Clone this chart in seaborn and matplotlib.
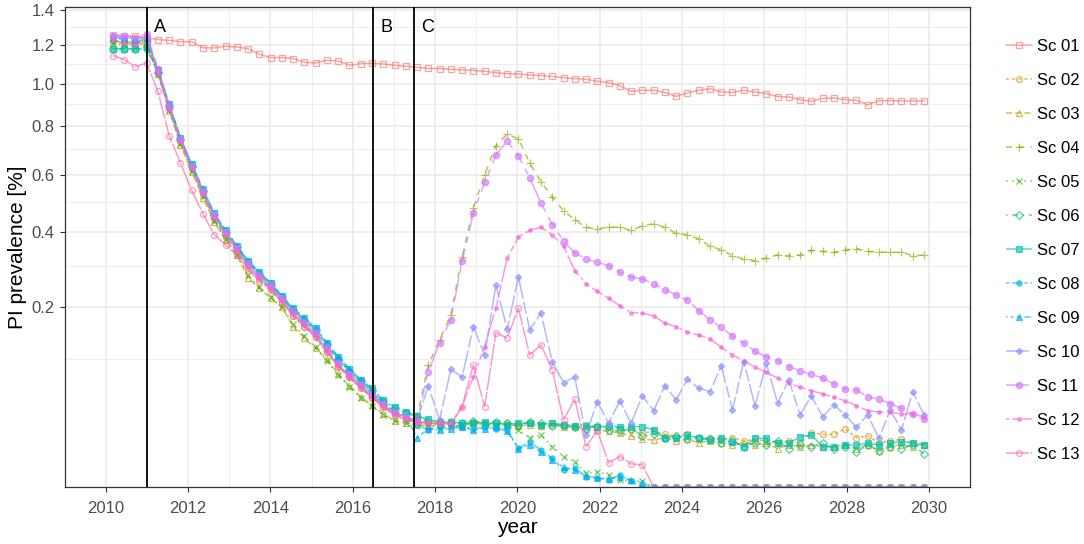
import numpy as np
import pandas as pd
import seaborn as sns
import matplotlib.pyplot as plt
import matplotlib.colors as mcolors

# time points (every 100 days)
year = [2010.170, 2010.444, 2010.718, 2010.991, 2011.265, 2011.539, 2011.813, 2012.087,
        2012.360, 2012.634, 2012.908, 2013.182, 2013.455, 2013.729, 2014.003, 2014.277,
        2014.551, 2014.824, 2015.098, 2015.372, 2015.646, 2015.920, 2016.193, 2016.467,
        2016.741, 2017.015, 2017.289, 2017.562, 2017.836, 2018.110, 2018.384, 2018.657,
        2018.931, 2019.205, 2019.479, 2019.753, 2020.026, 2020.300, 2020.574, 2020.848,
        2021.122, 2021.395, 2021.669, 2021.943, 2022.217, 2022.491, 2022.764, 2023.038,
        2023.312, 2023.586, 2023.860, 2024.133, 2024.407, 2024.681, 2024.955, 2025.228,
        2025.502, 2025.776, 2026.050, 2026.324, 2026.597, 2026.871, 2027.145, 2027.419,
        2027.693, 2027.966, 2028.240, 2028.514, 2028.788, 2029.062, 2029.335, 2029.609,
        2029.883]

sc01 = [1.258, 1.252, 1.249, 1.240, 1.230, 1.226, 1.218, 1.218, 1.185, 1.185, 1.194, 1.190,
        1.180, 1.151, 1.133, 1.133, 1.128, 1.109, 1.105, 1.119, 1.116, 1.093, 1.102, 1.103,
        1.100, 1.093, 1.088, 1.082, 1.077, 1.076,
        1.072, 1.070, 1.066, 1.062, 1.055, 1.050, 1.048, 1.043, 1.040, 1.036, 1.030, 1.025,
        1.022, 1.012, 1.005,
        0.990, 0.962, 0.967, 0.967, 0.957, 0.938, 0.954, 0.967, 0.975, 0.959, 0.957, 0.967,
        0.959, 0.951, 0.937, 0.935, 0.922, 0.914, 0.928, 0.930, 0.922, 0.919, 0.897, 0.917,
        0.917, 0.916, 0.916, 0.916]

sc02 = [1.22, 1.21, 1.22, 1.21,
        1.06, 0.88, 0.73, 0.62, 0.525, 0.44, 0.385, 0.34, 0.295, 0.265, 0.24, 0.21, 0.18,
        0.158, 0.138, 0.112, 0.089, 0.074, 0.060, 0.049, 0.039, 0.032, 0.028, 0.026, 0.025,
        0.024,
        0.025, 0.024, 0.026, 0.025, 0.024, 0.025, 0.024, 0.025, 0.024, 0.025, 0.023, 0.023,
        0.024, 0.022, 0.022, 0.021, 0.020, 0.018, 0.019, 0.017, 0.016, 0.017, 0.015, 0.015,
        0.014, 0.015, 0.013, 0.014, 0.013, 0.012, 0.013, 0.012, 0.018, 0.017, 0.017, 0.021,
        0.015, 0.016, 0.012, 0.013, 0.014, 0.012, 0.011]

sc03 = [1.23, 1.21, 1.21, 1.20,
        1.05, 0.87, 0.72, 0.61, 0.515, 0.43, 0.375, 0.33, 0.268, 0.243, 0.219, 0.199, 0.158,
        0.136, 0.118, 0.100, 0.078, 0.063, 0.050, 0.041, 0.033, 0.027, 0.025, 0.024, 0.023,
        0.024,
        0.024, 0.023, 0.025, 0.024, 0.023, 0.024, 0.023, 0.024, 0.023, 0.024, 0.022, 0.022,
        0.021, 0.020, 0.019, 0.018, 0.016, 0.014, 0.0136, 0.015, 0.013, 0.014, 0.012, 0.013,
        0.012, 0.011, 0.012, 0.011, 0.012, 0.009, 0.011, 0.010, 0.011, 0.010, 0.010, 0.011,
        0.009, 0.011, 0.008, 0.010, 0.011, 0.010, 0.011]

sc04 = [1.22, 1.22, 1.21, 1.22,
        1.06, 0.88, 0.74, 0.63, 0.53, 0.445, 0.39, 0.345, 0.30, 0.27, 0.243, 0.213, 0.183,
        0.161, 0.14, 0.113, 0.09, 0.075, 0.061, 0.05, 0.04, 0.033, 0.029,
        0.030, 0.0916, 0.133, 0.182, 0.325, 0.478, 0.599, 0.716, 0.765, 0.745, 0.645, 0.572,
        0.517, 0.469, 0.439, 0.414, 0.409, 0.415,
        0.415, 0.4045, 0.419, 0.426, 0.414, 0.396, 0.391, 0.379, 0.356, 0.346, 0.329, 0.320,
        0.315, 0.322, 0.331, 0.329, 0.331, 0.344, 0.341, 0.338, 0.346, 0.349, 0.341, 0.339,
        0.339, 0.338, 0.329, 0.330]

sc05 = [1.21, 1.20, 1.19, 1.19,
        1.05, 0.875, 0.725, 0.615, 0.52, 0.435, 0.378, 0.332, 0.275, 0.245, 0.222, 0.198,
        0.163, 0.14, 0.12, 0.098, 0.077, 0.062, 0.049, 0.040, 0.032, 0.027, 0.025,
        0.025, 0.024, 0.0205, 0.022, 0.024, 0.025, 0.025, 0.024, 0.023, 0.020, 0.0146, 0.0166,
        0.010, 0.0057, 0.0039, 0.0012, 0.0014, 0.0009, 0.0003, 0.0002, 0.0002,
        0, 0, 0, 0, 0, 0, 0, 0, 0, 0, 0, 0, 0, 0, 0, 0, 0, 0, 0, 0, 0, 0, 0, 0, 0]

sc06 = [1.18, 1.18, 1.18, 1.18,
        1.055, 0.89, 0.745, 0.635, 0.54, 0.455, 0.40, 0.355, 0.312, 0.28, 0.253, 0.222,
        0.193, 0.172, 0.152, 0.125, 0.10, 0.083, 0.069, 0.058, 0.045, 0.038, 0.034, 0.030,
        0.027, 0.026,
        0.026, 0.025, 0.027, 0.024, 0.026, 0.025, 0.024, 0.026, 0.025, 0.023, 0.024, 0.022,
        0.021, 0.023, 0.020, 0.019, 0.021, 0.016, 0.017, 0.015, 0.016, 0.014, 0.015, 0.014,
        0.012, 0.013, 0.010, 0.012, 0.011, 0.013, 0.009, 0.011, 0.010, 0.012, 0.009, 0.010,
        0.0075, 0.011, 0.008, 0.010, 0.009, 0.011, 0.0067]

sc07 = [1.18, 1.18, 1.18, 1.19,
        1.07, 0.90, 0.75, 0.64, 0.545, 0.46, 0.405, 0.358, 0.315, 0.283, 0.256, 0.225, 0.196,
        0.175, 0.155, 0.128, 0.104, 0.086, 0.071, 0.060, 0.046, 0.039, 0.035, 0.031, 0.028,
        0.026,
        0.026, 0.025, 0.025, 0.026, 0.025, 0.024, 0.025, 0.025, 0.024, 0.025, 0.024, 0.023,
        0.023, 0.022, 0.023, 0.022, 0.0224, 0.0224, 0.020, 0.0146, 0.0146, 0.0166, 0.0146,
        0.0136, 0.0146, 0.0126, 0.010, 0.0146, 0.0146, 0.0118, 0.0118, 0.0155, 0.0166, 0.010,
        0.010, 0.0109, 0.0109, 0.0118, 0.0109, 0.0118, 0.0126, 0.0118, 0.0109]

sc08 = [1.24, 1.23, 1.22, 1.23,
        1.07, 0.895, 0.745, 0.635, 0.54, 0.455, 0.40, 0.352, 0.31, 0.278, 0.25, 0.22, 0.19,
        0.17, 0.15, 0.123, 0.10, 0.082, 0.067, 0.055, 0.043, 0.034, 0.029,
        0.024, 0.020, 0.022, 0.023, 0.022, 0.021, 0.022, 0.021, 0.020, 0.0092, 0.0126, 0.0084,
        0.0051, 0.0018, 0.0022, 0.00065, 0.00047, 0.0003, 0.0009, 0.0002,
        0, 0, 0, 0, 0, 0, 0, 0, 0, 0, 0, 0, 0, 0, 0, 0, 0, 0, 0, 0, 0, 0, 0, 0, 0, 0]

sc09 = [1.24, 1.24, 1.23, 1.24,
        1.075, 0.90, 0.75, 0.64, 0.545, 0.46, 0.405, 0.358, 0.315, 0.283, 0.256, 0.225, 0.196,
        0.175, 0.155, 0.128, 0.104, 0.086, 0.070, 0.058, 0.044, 0.036, 0.031,
        0.0148, 0.021, 0.020, 0.021, 0.022, 0.020, 0.021, 0.022, 0.019, 0.0090, 0.011, 0.0075,
        0.0045, 0.0025, 0.0018, 0.0008, 0.0005, 0.0004, 0.0006, 0.0003, 0.0001,
        0, 0, 0, 0, 0, 0, 0, 0, 0, 0, 0, 0, 0, 0, 0, 0, 0, 0, 0, 0, 0, 0, 0, 0, 0]

sc10 = [1.25, 1.24, 1.24, 1.24,
        1.065, 0.885, 0.74, 0.63, 0.535, 0.45, 0.395, 0.35, 0.302, 0.272, 0.246, 0.216, 0.186,
        0.164, 0.143, 0.116, 0.092, 0.077, 0.063, 0.051, 0.041, 0.034, 0.030, 0.027,
        0.0628, 0.0276, 0.0853, 0.0741, 0.158, 0.107, 0.251, 0.153, 0.271, 0.152, 0.186,
        0.0967, 0.067, 0.0741, 0.0166, 0.0448, 0.025, 0.0455, 0.025, 0.051, 0.0358, 0.0628,
        0.0466, 0.0714, 0.060,
        0.0559, 0.0901, 0.0365, 0.0967, 0.0404, 0.0942, 0.0431, 0.0705, 0.0319, 0.051, 0.0304,
        0.0414, 0.0319, 0.0219, 0.0319, 0.0146, 0.0365, 0.020, 0.0559, 0.0319]

sc11 = [1.25, 1.25, 1.24, 1.26,
        1.075, 0.895, 0.745, 0.635, 0.54, 0.455, 0.40, 0.352, 0.308, 0.276, 0.25, 0.22, 0.19,
        0.168, 0.147, 0.12, 0.095, 0.079, 0.065, 0.053, 0.042, 0.035, 0.030, 0.027,
        0.0819, 0.128, 0.172, 0.313, 0.461, 0.570, 0.679, 0.734, 0.675, 0.587, 0.496, 0.423,
        0.373, 0.336, 0.320, 0.310, 0.301, 0.284, 0.271, 0.266, 0.254, 0.239, 0.227, 0.215,
        0.191, 0.172, 0.157, 0.140, 0.127, 0.113, 0.1045, 0.0982, 0.0891, 0.0828, 0.0782,
        0.0727, 0.0653, 0.0588, 0.0579, 0.0502, 0.0477, 0.0424, 0.0381, 0.0328, 0.0282]

sc12 = [1.23, 1.21, 1.20, 1.25,
        1.06, 0.88, 0.735, 0.625, 0.53, 0.445, 0.39, 0.345, 0.298, 0.268, 0.243, 0.213, 0.183,
        0.161, 0.14, 0.113, 0.09, 0.075, 0.061, 0.05, 0.04, 0.033, 0.029, 0.027, 0.025, 0.025,
        0.025,
        0.0397, 0.0749, 0.1212, 0.1966, 0.322, 0.384, 0.4045, 0.415, 0.391, 0.356, 0.288,
        0.254, 0.235, 0.219, 0.2017, 0.187, 0.186, 0.180, 0.165, 0.158, 0.147, 0.142, 0.135,
        0.120, 0.107, 0.098, 0.0882, 0.081, 0.0727, 0.0662, 0.0612, 0.0571, 0.0533, 0.0495,
        0.0458, 0.0407, 0.0358, 0.0344, 0.0344, 0.0328, 0.0328, 0.0304]

sc13 = [1.144, 1.123, 1.085, 1.105,
        0.962, 0.759, 0.645, 0.541, 0.459, 0.391, 0.36, 0.33, 0.29, 0.262, 0.238, 0.21, 0.18,
        0.158, 0.138, 0.112, 0.089, 0.074, 0.060, 0.049, 0.039, 0.032, 0.028, 0.026, 0.025,
        0.025, 0.024,
        0.0397, 0.0916, 0.0397, 0.1466, 0.136, 0.1966, 0.107, 0.124, 0.0843, 0.0276, 0.0474,
        0.010, 0.0195, 0.0036, 0.0057, 0.0033, 0.003,
        0, 0, 0, 0, 0, 0, 0, 0, 0, 0, 0, 0, 0, 0, 0, 0, 0, 0, 0, 0, 0, 0, 0, 0, 0]

scenarios = ['Sc 01', 'Sc 02', 'Sc 03', 'Sc 04', 'Sc 05', 'Sc 06', 'Sc 07',
             'Sc 08', 'Sc 09', 'Sc 10', 'Sc 11', 'Sc 12', 'Sc 13']
series = [sc01, sc02, sc03, sc04, sc05, sc06, sc07, sc08, sc09, sc10, sc11, sc12, sc13]

# ggplot-like hue palette, linetypes and shapes
colors = ['#F8766D', '#E18A00', '#BE9C00', '#8CAB00', '#24B700', '#00BE70', '#00C1AB',
          '#00BBDA', '#00ACFC', '#8B93FF', '#D575FE', '#F962DD', '#FF65AC']
dash_list = ['', (2, 2), (4, 2), (4, 4), (1, 3), (1, 3, 4, 3), (7, 3), (2, 2, 6, 2),
             (1, 2, 2, 2, 3, 2, 4, 2), (15, 2, 8, 2), (15, 4, 4, 4, 8, 4, 4, 4),
             (2, 2, 4, 2, 8, 2, 15, 2), (15, 1)]
marker_list = ['s', 'o', '^', '+', 'x', 'D', 's', 'o', '^', 'D', 'o', '.', 'o']
filled = [False, False, False, True, True, False, True, True, True, True, True, True, False]
msize = [4.2, 4.2, 4.5, 5.5, 4.5, 3.8, 3.8, 3.8, 4.2, 3.2, 4.5, 5, 4.2]

frames = []
for name, vals in zip(scenarios, series):
    if len(vals) != len(year):
        print(name, len(vals))
    frames.append(pd.DataFrame({'year': year, 'prev': vals, 'scenario': name}))
df = pd.concat(frames, ignore_index=True)

plt.rcParams['font.family'] = ['Liberation Sans', 'DejaVu Sans']

fig = plt.figure(figsize=(10.84, 5.44), dpi=100)
ax = fig.add_axes([64.7 / 1084, 57 / 544, (970 - 64.7) / 1084, (487 - 6.7) / 544])
ax.set_yscale('function', functions=(lambda v: np.sqrt(np.clip(v, 0, None)),
                                     lambda v: np.square(v)))

sns.lineplot(data=df, x='year', y='prev', hue='scenario', style='scenario',
             palette=colors, dashes=dict(zip(scenarios, dash_list)), markers=False,
             linewidth=1.1, alpha=0.65, estimator=None, sort=False, legend=False, ax=ax)

hex_to_idx = {c.lower(): i for i, c in enumerate(colors)}
handles = [None] * len(scenarios)
for line in ax.get_lines():
    i = hex_to_idx.get(mcolors.to_hex(line.get_color()).lower())
    if i is None:
        continue
    c = colors[i]
    line.set_marker(marker_list[i])
    line.set_markersize(msize[i])
    line.set_markeredgecolor(c)
    line.set_markerfacecolor(c if filled[i] else 'none')
    line.set_markeredgewidth(0.9)
    line.set_label(scenarios[i])
    handles[i] = line

for xv, lab in [(2011, 'A'), (2016.5, 'B'), (2017.5, 'C')]:
    ax.axvline(xv, color='black', lw=1.3, zorder=4)
    ax.text(xv + 0.17, 1.30, lab, fontsize=13, ha='left', va='center', color='black')

ax.set_xlim(2009, 2031)
ax.set_ylim(0, 1.4176)
ax.set_xticks(range(2010, 2031, 2))
ax.set_xticks(range(2011, 2031, 2), minor=True)
ax.set_yticks([0.2, 0.4, 0.6, 0.8, 1.0, 1.2, 1.4])
ax.set_yticklabels(['0.2', '0.4', '0.6', '0.8', '1.0', '1.2', '1.4'])
ax.set_yticks([0.1, 0.3, 0.5, 0.7, 0.9, 1.1, 1.3], minor=True)
ax.grid(which='major', color='#EBEBEB', lw=1.2)
ax.grid(which='minor', color='#EBEBEB', lw=0.6)
ax.set_axisbelow(True)
ax.tick_params(which='minor', length=0)
ax.tick_params(which='major', length=3.8, width=0.8, color='#333333',
               labelcolor='#4D4D4D', labelsize=12)
ax.tick_params(axis='x', pad=6)
ax.tick_params(axis='y', pad=3.5)
for s in ax.spines.values():
    s.set_color('#333333')
    s.set_linewidth(0.9)

ax.set_xlabel('year', fontsize=15, labelpad=1.5)
ax.set_ylabel('PI prevalence [%]', fontsize=15, labelpad=3)

fig.legend(handles=handles, labels=scenarios, loc='upper left',
           bbox_to_anchor=(0.9216, 0.940), frameon=False, fontsize=12,
           handlelength=1.56, handletextpad=0.3, labelspacing=1.14, numpoints=1,
           borderpad=0.4, borderaxespad=0)

fig.savefig('out.png', dpi=100)
